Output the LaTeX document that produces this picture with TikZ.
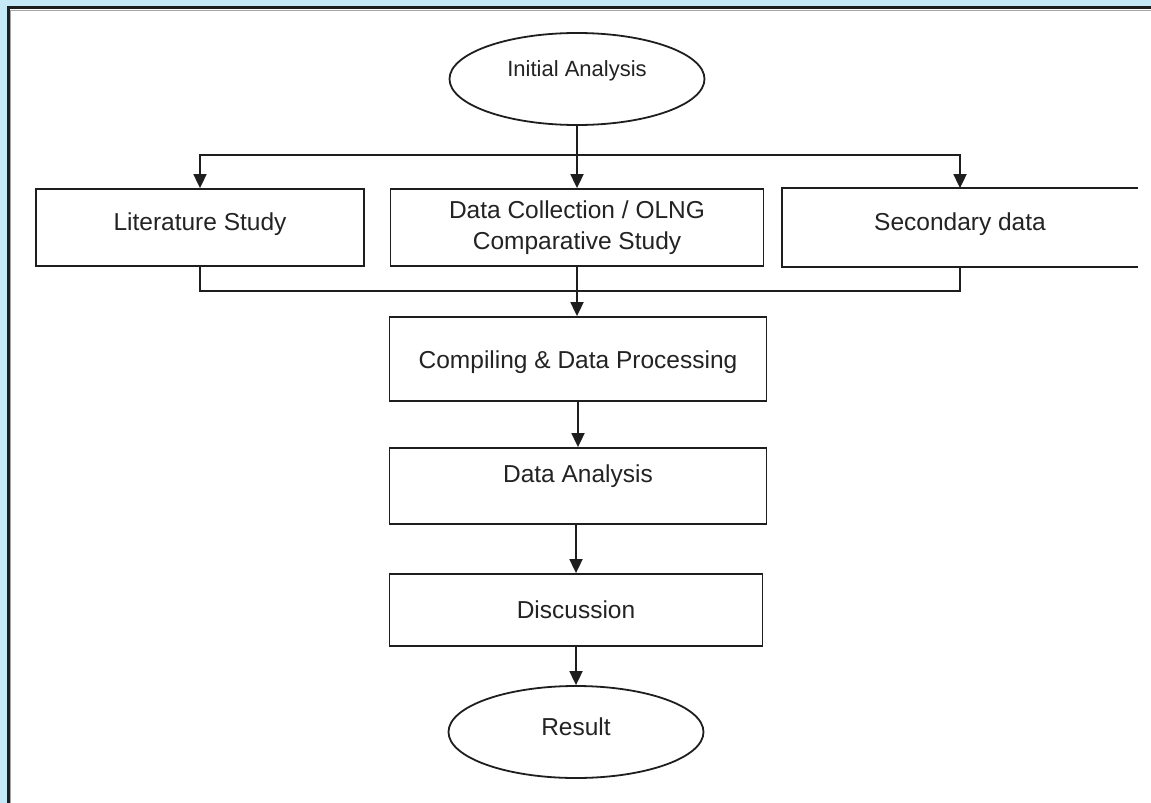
\documentclass[tikz,border=0pt]{standalone}
\usepackage{fontspec}
\setmainfont{Liberation Sans}
\usetikzlibrary{shapes.geometric,arrows.meta}
\definecolor{bgblue}{RGB}{198,233,248}
\definecolor{ink}{RGB}{30,30,30}
\definecolor{txt}{RGB}{35,35,35}
\tikzset{
  box/.style={rectangle, draw=ink, line width=1.8pt, inner sep=0pt, text=txt,
    font=\fontsize{24.5}{31}\selectfont},
  oval/.style={ellipse, draw=ink, line width=1.8pt, inner sep=0pt, text=txt,
    minimum width=255pt, minimum height=92pt},
  conn/.style={draw=ink, line width=1.8pt},
  arr/.style={conn, -{Triangle[length=14pt,width=13pt]}},
}
\begin{document}
\begin{tikzpicture}[x=1pt,y=-1pt]
\useasboundingbox (0,0) rectangle (1151,803);
\fill[bgblue] (0,0) rectangle (1151,803);
\begin{scope}
\clip (0,0) rectangle (1151,803);
\draw[fill=white, draw=ink, line width=3pt] (8,7.5) rectangle (1170,820);
\draw[gray!70, line width=1pt] (10.5,1000) -- (10.5,10) -- (1170,10);
\end{scope}

\node[oval, font=\fontsize{22}{26}\selectfont, text height=16pt, text depth=22pt] (ia) at (577,79) {Initial Analysis};
\node[box, minimum width=328pt, minimum height=77pt, text height=18pt, text depth=12pt] (lit) at (200,227.5) {Literature Study};
\node[box, minimum width=373pt, minimum height=77pt, align=center] (dc) at (577,227.5) {Data Collection / OLNG\\Comparative Study};
\node[box, draw=none, minimum width=354pt, minimum height=77pt, text height=18pt, text depth=12pt] (sec) at (960,227.5) {Secondary data};
\draw[conn] (sec.north east) -- (sec.north west) -- (sec.south west) -- (sec.south east);
\node[box, minimum width=377pt, minimum height=84pt, text height=18pt, text depth=0pt] (cdp) at (578,359) {Compiling \& Data Processing};
\node[box, minimum width=377pt, minimum height=76pt, text height=18pt, text depth=26pt] (da) at (578,486) {Data Analysis};
\node[box, minimum width=373pt, minimum height=72pt, text height=18pt, text depth=2pt] (dis) at (576,610) {Discussion};
\node[oval, font=\fontsize{24.5}{30}\selectfont, text height=18pt, text depth=12pt] (res) at (576,732) {Result};

\coordinate (busT) at (577,155);
\coordinate (busB) at (577,291);

\draw[arr] (ia.south) -- (dc.north);
\draw[arr] (busT) -| (lit.north);
\draw[arr] (busT) -| (sec.north);
\draw[conn] (lit.south) |- (busB) -| (sec.south);
\draw[arr] (dc.south) -- (cdp.north -| dc.south);
\draw[arr] (cdp.south) -- (da.north);
\draw[arr] (da.south -| dis.north) -- (dis.north);
\draw[arr] (dis.south) -- (res.north);
\end{tikzpicture}
\end{document}
